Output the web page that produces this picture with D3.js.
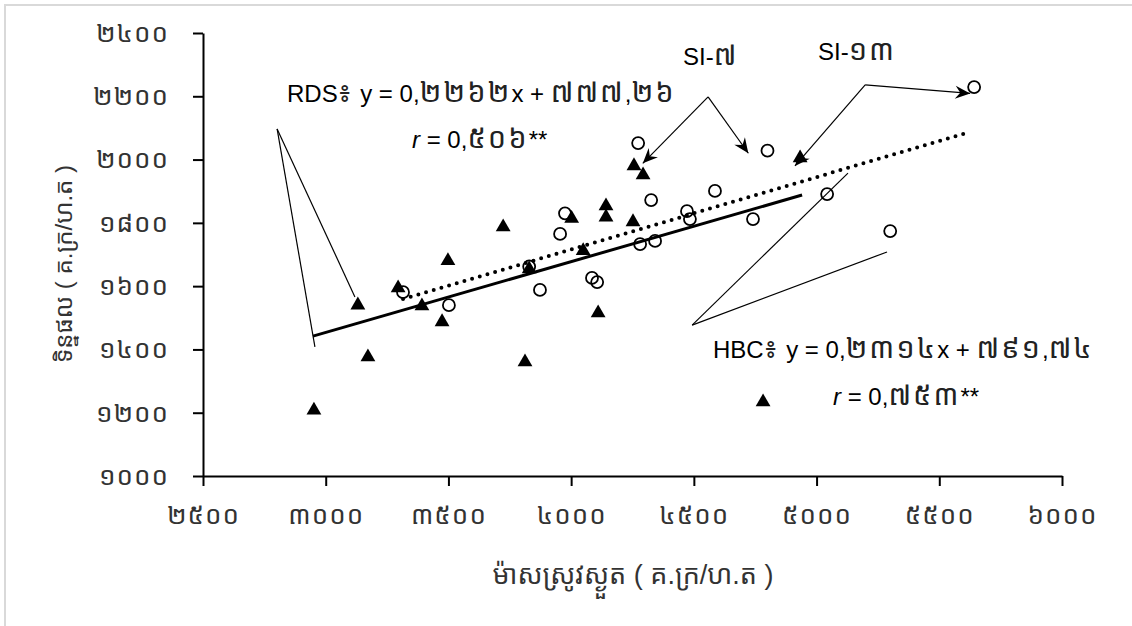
<!DOCTYPE html>
<html>
<head>
<meta charset="utf-8">
<script src="https://cdn.jsdelivr.net/npm/d3@7"></script>
<style>
  body { margin: 0; background: #fff; }
  svg text { font-family: "Liberation Sans", Arial, "Noto Sans Khmer", "Khmer OS", sans-serif; }
</style>
</head>
<body>
<div id="my_dataviz"></div>
<script>
// data
var hbcX = [2952, 3131, 3172, 3295, 3392, 3474, 3498, 3723, 3812, 3829, 4049, 4002, 4110, 4142, 4142, 4252, 4256, 4293, 4782, 4933];
var hbcY = [1208, 1540, 1376, 1594, 1537, 1487, 1680, 1787, 1360, 1654, 1712, 1814, 1515, 1853, 1818, 1803, 1980, 1951, 1234, 2005];
var rdsX = [3315, 3502, 3829, 3873, 3955, 3975, 4273, 4326, 4472, 4484, 4586, 4281, 4342, 4085, 4106, 4800, 4741, 5043, 5300, 5642];
var rdsY = [1581, 1540, 1662, 1588, 1765, 1830, 2052, 1872, 1837, 1812, 1901, 1733, 1743, 1626, 1613, 2028, 1812, 1891, 1774, 2229];

// trend lines (end points)
var hbcTrendX = [2948, 4941];
var hbcTrendY = [1442, 1888];
var rdsTrendX = [3315, 5614];
var rdsTrendY = [1559, 2085];

var xTicks = [2500, 3000, 3500, 4000, 4500, 5000, 5500, 6000];
var xTickLabels = ["២៥០០", "៣០០០", "៣៥០០", "៤០០០", "៤៥០០", "៥០០០", "៥៥០០", "៦០០០"];
var yTicks = [1000, 1200, 1400, 1600, 1800, 2000, 2200, 2400];
var yTickLabels = ["១០០០", "១២០០", "១៤០០", "១៦០០", "១៨០០", "២០០០", "២២០០", "២៤០០"];

var xTitle = "ម៉ាសស្រូវស្ងួត ( គ.ក្រ/ហ.ត )";
var yTitle = "ទិន្នផល ( គ.ក្រ/ហ.ត )";

var width = 1132, height = 626;

var svg = d3.select("#my_dataviz")
    .append("svg")
    .attr("width", width)
    .attr("height", height);

// light frame
svg.append("rect")
    .attr("x", 5).attr("y", 5)
    .attr("width", 1200).attr("height", 700)
    .attr("fill", "none")
    .attr("stroke", "#d9d9d9")
    .attr("stroke-width", 2);

var x = d3.scaleLinear().domain([2500, 6000]).range([203, 1062]);
var y = d3.scaleLinear().domain([1000, 2400]).range([476, 33]);

var defs = svg.append("defs");
defs.append("marker")
    .attr("id", "arrow")
    .attr("viewBox", "-16 -8 18 16")
    .attr("refX", 0).attr("refY", 0)
    .attr("markerWidth", 18).attr("markerHeight", 16)
    .attr("markerUnits", "userSpaceOnUse")
    .attr("orient", "auto")
    .append("path")
    .attr("d", "M0,0 L-15,-6.5 L-10,0 L-15,6.5 Z")
    .attr("fill", "#000");

// axes
var xAxis = svg.append("g")
    .attr("transform", "translate(0," + y(1000) + ")")
    .call(d3.axisBottom(x)
        .tickValues(xTicks)
        .tickSize(10)
        .tickSizeOuter(0)
        .tickPadding(20)
        .tickFormat(function(d, i) { return xTickLabels[i]; }));

var yAxis = svg.append("g")
    .attr("transform", "translate(" + x(2500) + ",0)")
    .call(d3.axisLeft(y)
        .tickValues(yTicks)
        .tickSize(10)
        .tickSizeOuter(0)
        .tickPadding(24)
        .tickFormat(function(d, i) { return yTickLabels[i]; }));

svg.selectAll(".domain").attr("stroke", "#000").attr("stroke-width", 2);
svg.selectAll(".tick line").attr("stroke", "#000").attr("stroke-width", 2);
svg.selectAll(".tick text")
    .attr("fill", "#333")
    .style("font-size", "26px")
    .style("letter-spacing", "1px");

// axis titles
svg.append("text")
    .attr("x", 633).attr("y", 584)
    .attr("text-anchor", "middle")
    .attr("fill", "#333")
    .style("font-size", "27px")
    .text(xTitle);

svg.append("text")
    .attr("transform", "translate(72,264) rotate(-90)")
    .attr("text-anchor", "middle")
    .attr("fill", "#333")
    .style("font-size", "24px")
    .text(yTitle);

// annotation lines without heads
var plainLines = [
    [[2802, 2097], [2956, 1408]],
    [[2802, 2097], [3119, 1566]],
    [[4493, 1477], [5128, 1957]],
    [[4493, 1477], [5287, 1708]]
];
svg.selectAll(".plain")
    .data(plainLines)
    .enter()
    .append("line")
    .attr("x1", function(d) { return x(d[0][0]); })
    .attr("y1", function(d) { return y(d[0][1]); })
    .attr("x2", function(d) { return x(d[1][0]); })
    .attr("y2", function(d) { return y(d[1][1]); })
    .attr("stroke", "#000")
    .attr("stroke-width", 1.2);

// arrows for SI labels
var arrowLines = [
    [[4558, 2198], [4292, 1988]],
    [[4558, 2198], [4722, 2020]],
    [[5198, 2236], [4912, 1980]],
    [[5198, 2236], [5626, 2209]]
];
svg.selectAll(".arrow")
    .data(arrowLines)
    .enter()
    .append("line")
    .attr("x1", function(d) { return x(d[0][0]); })
    .attr("y1", function(d) { return y(d[0][1]); })
    .attr("x2", function(d) { return x(d[1][0]); })
    .attr("y2", function(d) { return y(d[1][1]); })
    .attr("stroke", "#000")
    .attr("stroke-width", 1.2)
    .attr("marker-end", "url(#arrow)");

// trend lines
svg.append("line")
    .attr("x1", x(hbcTrendX[0])).attr("y1", y(hbcTrendY[0]))
    .attr("x2", x(hbcTrendX[1])).attr("y2", y(hbcTrendY[1]))
    .attr("stroke", "#000")
    .attr("stroke-width", 3);

svg.append("line")
    .attr("x1", x(rdsTrendX[0])).attr("y1", y(rdsTrendY[0]))
    .attr("x2", x(rdsTrendX[1])).attr("y2", y(rdsTrendY[1]))
    .attr("stroke", "#000")
    .attr("stroke-width", 4)
    .attr("stroke-linecap", "round")
    .attr("stroke-dasharray", "0 8");

// points
var hbc = hbcX.map(function(d, i) { return {x: d, y: hbcY[i]}; });
var rds = rdsX.map(function(d, i) { return {x: d, y: rdsY[i]}; });

svg.selectAll(".rds")
    .data(rds)
    .enter()
    .append("circle")
    .attr("class", "rds")
    .attr("cx", function(d) { return x(d.x); })
    .attr("cy", function(d) { return y(d.y); })
    .attr("r", 6)
    .attr("fill", "none")
    .attr("stroke", "#000")
    .attr("stroke-width", 1.8);

svg.selectAll(".hbc")
    .data(hbc)
    .enter()
    .append("path")
    .attr("class", "hbc")
    .attr("d", d3.symbol().type(d3.symbolTriangle).size(95))
    .attr("transform", function(d) { return "translate(" + x(d.x) + "," + y(d.y) + ")"; })
    .attr("fill", "#000");

// equation labels: Khmer runs are drawn a bit larger so they match the latin glyphs
function label(px, py, str, italicR) {
    var t = svg.append("text")
        .attr("x", px).attr("y", py)
        .attr("fill", "#000")
        .style("font-size", "24px");
    var runs = str.match(/[\u1780-\u17FF]+|[^\u1780-\u17FF]+/g);
    runs.forEach(function(r, i) {
        var khmer = /[\u1780-\u17FF]/.test(r);
        if (i === 0 && italicR) {
            t.append("tspan").style("font-style", "italic").text("r");
            r = r.slice(1);
        }
        t.append("tspan")
            .attr("fill", khmer ? "#222" : null)
            .style("font-size", khmer ? "29px" : null)
            .style("letter-spacing", khmer ? "2px" : null)
            .text(r);
    });
}
label(287, 102, "RDS៖ y = 0,២២៦២x + ៧៧៧,២៦");
label(412, 148, "r = 0,៥០៦**", true);
label(713, 358, "HBC៖ y = 0,២៣១៤x + ៧៩១,៧៤");
label(833, 405, "r = 0,៧៥៣**", true);
label(683, 65, "SI-៧");
label(818, 60, "SI-១៣");
</script>
</body>
</html>
